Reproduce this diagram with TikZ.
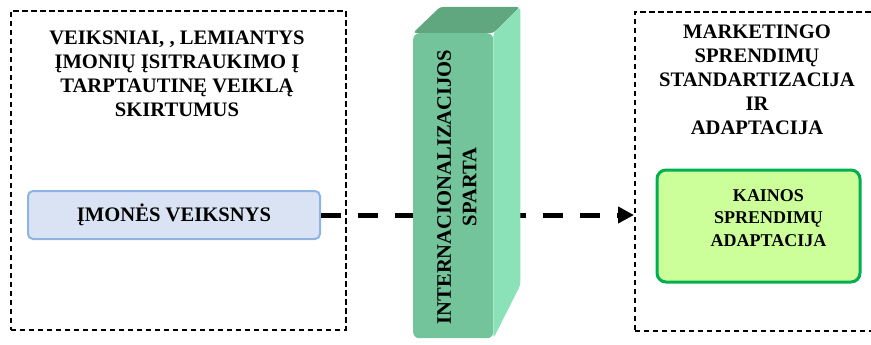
\documentclass[tikz,border=0pt]{standalone}
\usepackage{fontspec}
\setmainfont{Liberation Serif}
\usetikzlibrary{calc,arrows.meta,positioning}

\definecolor{firmfill}{RGB}{218,227,243}
\definecolor{firmline}{RGB}{142,180,227}
\definecolor{pricefill}{RGB}{204,255,153}
\definecolor{priceline}{RGB}{0,176,80}
\definecolor{barfront}{RGB}{115,196,155}
\definecolor{bartop}{RGB}{96,166,127}
\definecolor{barside}{RGB}{139,226,184}

\tikzset{
  frame/.style={draw,line width=1.6pt,dash pattern=on 5.5pt off 3.5pt,
                minimum width=#1,minimum height=319pt,inner sep=0pt},
  heading/.style={font=\bfseries\fontsize{20.6}{24}\selectfont,align=center,inner sep=0pt},
  firmbox/.style={draw=firmline,fill=firmfill,line width=2pt,rounded corners=5pt,
                  minimum width=292pt,minimum height=48pt,
                  font=\bfseries\fontsize{20.6}{24}\selectfont},
  pricebox/.style={draw=priceline,fill=pricefill,line width=3pt,rounded corners=9pt,
                   minimum width=203pt,minimum height=112pt},
  boxtext/.style={font=\bfseries\fontsize{18}{22.5}\selectfont,align=center,inner sep=0pt},
  flow/.style={line width=5pt,dash pattern=on 20pt off 17pt,
               -{Triangle[length=16pt,width=16pt]}}
}

\begin{document}
\begin{tikzpicture}[x=1pt,y=-1pt]
 \useasboundingbox (0,0) rectangle (871,345);
 % left frame
 \node[frame=335pt,anchor=north west] (lframe) at (10,10) {};
 \node[heading] (ltitle) at (177,74)
      {VEIKSNIAI, , LEMIANTYS\\ĮMONIŲ ĮSITRAUKIMO Į\\TARPTAUTINĘ VEIKLĄ\\SKIRTUMUS};
 \node[firmbox] (firm) at (174,215) {ĮMONĖS VEIKSNYS};
 % right frame
 \node[frame=260pt,anchor=north west] (rframe) at (634,11) {};
 \node[heading] (rtitle) at (757,80)
      {MARKETINGO\\SPRENDIMŲ\\STANDARTIZACIJA\\IR\\ADAPTACIJA};
 \node[pricebox] (price) at (758.5,226) {};
 \node[boxtext] (pricetext) at ([shift={(10,-8)}]price.center)
      {KAINOS\\SPRENDIMŲ\\ADAPTACIJA};
 % connector, behind the bar
 \draw[flow] (firm.east) -- (firm.east -| rframe.west);
 % 3d bar
 \node[fill=barfront,rounded corners=6pt,minimum width=80pt,minimum height=305pt,
       inner sep=0pt,anchor=north west] (bar) at (413,33) {};
 \fill[bartop,rounded corners=3pt] (bar.north west) -- ++(27,-26) -- ++(80,0)
      -- (bar.north east) -- cycle;
 \fill[barside,rounded corners=3pt] (bar.north east) -- ++(27,-26) -- ++(0,278)
      -- (bar.south east) -- cycle;
 \node[heading,rotate=90,font=\bfseries\fontsize{20.6}{25.5}\selectfont] (speed) at (457,187)
      {INTERNACIONALIZACIJOS\\SPARTA};
\end{tikzpicture}
\end{document}
